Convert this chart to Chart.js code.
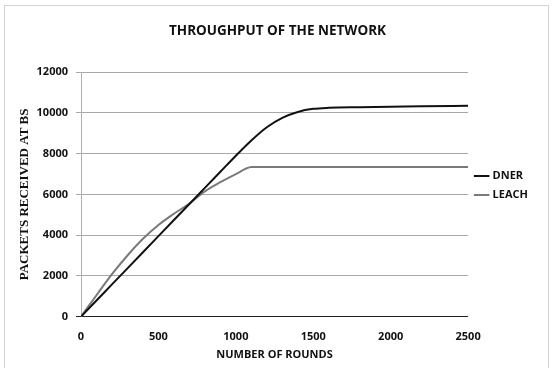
<!DOCTYPE html>
<html>
<head>
<meta charset="utf-8">
<script src="https://cdn.jsdelivr.net/npm/chart.js@4.4.1/dist/chart.umd.min.js"></script>
<style>
    html, body { margin: 0; padding: 0; background: #fff; }
    #wrap { position: absolute; left: 4px; top: 5px; width: 543px; height: 362px; border: 1px solid #d4d4d4; border-bottom: none; }
    #chart { position: absolute; left: 0; top: 0; }
</style>
</head>
<body>
<div id="wrap"><canvas id="chart" width="543" height="362"></canvas></div>
<script>
// rounds (x) and packets received at BS (y)
const dnerRounds = [0, 100, 200, 300, 400, 500, 600, 700, 800, 900, 1000, 1100, 1200, 1300, 1400, 1500, 1600, 1800, 2000, 2200, 2500];
const dnerPackets = [0, 790, 1580, 2370, 3160, 3950, 4740, 5530, 6320, 7110, 7900, 8650, 9300, 9760, 10050, 10200, 10250, 10280, 10300, 10330, 10350];

const leachRounds = [0, 100, 200, 300, 400, 500, 600, 700, 800, 900, 1000, 1100, 1150, 1200, 1500, 2000, 2500];
const leachPackets = [0, 1050, 2080, 3000, 3820, 4500, 5050, 5550, 6150, 6600, 7000, 7340, 7350, 7350, 7350, 7350, 7350];

const xTicks = [0, 500, 1000, 1500, 2000, 2500];
const yTicks = [0, 2000, 4000, 6000, 8000, 10000, 12000];

const toPoints = (xs, ys) => xs.map((x, i) => ({ x: x, y: ys[i] }));

const ctx = document.getElementById('chart').getContext('2d');

new Chart(ctx, {
    type: 'line',
    data: {
        datasets: [{
            label: 'DNER',
            data: toPoints(dnerRounds, dnerPackets),
            borderColor: '#111111',
            backgroundColor: '#111111',
            borderWidth: 2,
            pointRadius: 0,
            cubicInterpolationMode: 'monotone'
        }, {
            label: 'LEACH',
            data: toPoints(leachRounds, leachPackets),
            borderColor: '#7a7a7a',
            backgroundColor: '#7a7a7a',
            borderWidth: 2,
            pointRadius: 0,
            cubicInterpolationMode: 'monotone'
        }]
    },
    options: {
        responsive: false,
        animation: false,
        layout: { padding: { left: 12, right: 10, top: 4, bottom: 7 } },
        plugins: {
            title: {
                display: true,
                text: 'THROUGHPUT OF THE NETWORK',
                color: '#111',
                font: { family: 'Open Sans', size: 13.5, weight: 'bold' },
                padding: { top: 13, bottom: 33 }
            },
            legend: {
                position: 'right',
                labels: {
                    usePointStyle: true,
                    pointStyle: 'line',
                    boxWidth: 24,
                    padding: 8,
                    color: '#111',
                    font: { family: 'Open Sans', size: 11, weight: 'bold' }
                }
            },
            tooltip: { enabled: false }
        },
        scales: {
            x: {
                type: 'linear',
                min: 0,
                max: 2500,
                afterBuildTicks: s => { s.ticks = xTicks.map(v => ({ value: v })); },
                grid: { display: false, drawTicks: false },
                border: { display: false },
                ticks: {
                    color: '#111',
                    padding: 14,
                    callback: v => String(v),
                    font: { family: 'Open Sans', size: 11, weight: 'bold' }
                },
                title: {
                    display: true,
                    text: 'NUMBER OF ROUNDS',
                    color: '#111',
                    padding: { top: -10, bottom: 0 },
                    font: { family: 'Open Sans', size: 11, weight: 'bold' }
                }
            },
            y: {
                min: 0,
                max: 12000,
                afterBuildTicks: s => { s.ticks = yTicks.map(v => ({ value: v })); },
                afterFit: s => { s.width = 64; },
                grid: {
                    color: ctx => ctx.tick.value === 0 ? '#222' : '#a8a8a8',
                    lineWidth: 1,
                    tickLength: 5
                },
                border: { display: true, color: '#b0b0b0' },
                ticks: {
                    color: '#111',
                    padding: 8,
                    callback: v => String(v),
                    font: { family: 'Open Sans', size: 11, weight: 'bold' }
                },
                title: {
                    display: true,
                    text: 'PACKETS RECEIVED AT BS',
                    color: '#111',
                    padding: { top: 0, bottom: 4 },
                    font: { family: 'Liberation Serif', size: 13, weight: 'bold' }
                }
            }
        }
    }
});
</script>
</body>
</html>
